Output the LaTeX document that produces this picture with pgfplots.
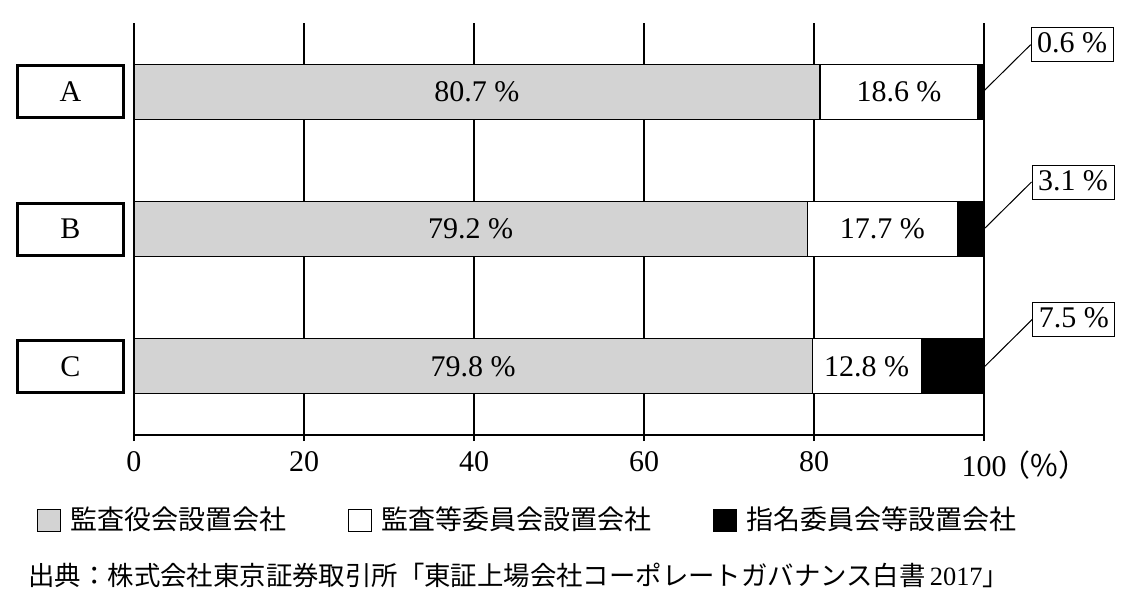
\documentclass[border=0pt]{standalone}
\usepackage{fontspec}
\setmainfont{Liberation Serif}
\newfontfamily\jp{Noto Sans CJK JP}
\usepackage{pgfplots}
\pgfplotsset{compat=1.18}

\definecolor{kansa}{RGB}{211,211,211}

\begin{document}
\begin{tikzpicture}
\path[use as bounding box] (-67pt,-77.5pt) rectangle (496.5pt,217.5pt);
\begin{axis}[
    scale only axis,
    width=425pt, height=206pt,
    xbar stacked,
    bar width=27.5pt,
    xmin=0, xmax=100,
    ymin=0.5, ymax=3.5,
    clip=false,
    axis x line*=bottom,
    axis y line*=left,
    y axis line style={draw=none},
    x axis line style={line width=0.6pt},
    xtick={0,20,40,60,80,100},
    xticklabels={0,20,40,60,80,{100\makebox[0pt][l]{\hspace{-3pt}\jp （\%）}}},
    tick align=outside,
    major tick length=3pt,
    xtick style={black, line width=0.6pt},
    ytick={1,2,3},
    yticklabels={C,B,A},
    ytick style={draw=none},
    xmajorgrids=true,
    grid style={black, line width=0.6pt},
    tick label style={font=\fontsize{15}{18}\selectfont},
    xticklabel style={yshift=-1.5pt},
    yticklabel style={draw, line width=1.5pt, minimum width=53pt,
        minimum height=26pt, inner sep=0pt, anchor=east, xshift=-1.5pt},
    point meta=explicit symbolic,
    legend columns=3,
    legend style={draw=none, fill=none, inner sep=0pt,
        at={(-0.1141,-0.2063)}, anchor=west,
        font=\jp\fontsize{13.5}{16}\selectfont,
        /tikz/every odd column/.append style={column sep=2.5pt},
        /tikz/every even column/.append style={column sep=29pt}},
    legend image code/.code={\draw[#1, line width=0.5pt, draw=black] (0pt,-5.5pt) rectangle (11.5pt,5.5pt);},
]

\addplot[fill=kansa, draw=black, line width=0.6pt,
    nodes near coords={\pgfplotspointmeta\ \%},
    every node near coord/.append style={font=\fontsize{15}{18}\selectfont, black}]
    coordinates {(79.8,1) [79.8] (79.2,2) [79.2] (80.7,3) [80.7]};

\addplot[fill=white, draw=black, line width=0.6pt,
    nodes near coords={\pgfplotspointmeta\ \%},
    every node near coord/.append style={font=\fontsize{15}{18}\selectfont, black}]
    coordinates {(12.8,1) [12.8] (17.7,2) [17.7] (18.6,3) [18.6]};

\addplot[fill=black, draw=black, line width=0.6pt,
    nodes near coords={\pgfplotspointmeta\ \%},
    every node near coord/.style={draw, line width=0.5pt, anchor=west,
        inner xsep=3pt, inner ysep=1.5pt, text height=11pt, text depth=3pt,
        shift={(axis direction cs:\pgfplotspointmeta/2,0)},
        xshift=23.75pt, yshift=23.5pt, font=\fontsize{15}{18}\selectfont,
        append after command={(\tikzlastnode.west) edge[line width=0.5pt]
            ([xshift=-23.75pt,yshift=-23.5pt]\tikzlastnode.west)}}]
    coordinates {(7.5,1) [7.5] (3.1,2) [3.1] (0.6,3) [0.6]};

\legend{監査役会設置会社,監査等委員会設置会社,指名委員会等設置会社}

\node[anchor=west, inner sep=0pt, font=\jp\fontsize{13.2}{16}\selectfont]
    at (rel axis cs:-0.1247,-0.3398)
    {出典：株式会社東京証券取引所「東証上場会社コーポレートガバナンス白書\,{\rmfamily 2017}」};
\end{axis}
\end{tikzpicture}
\end{document}
